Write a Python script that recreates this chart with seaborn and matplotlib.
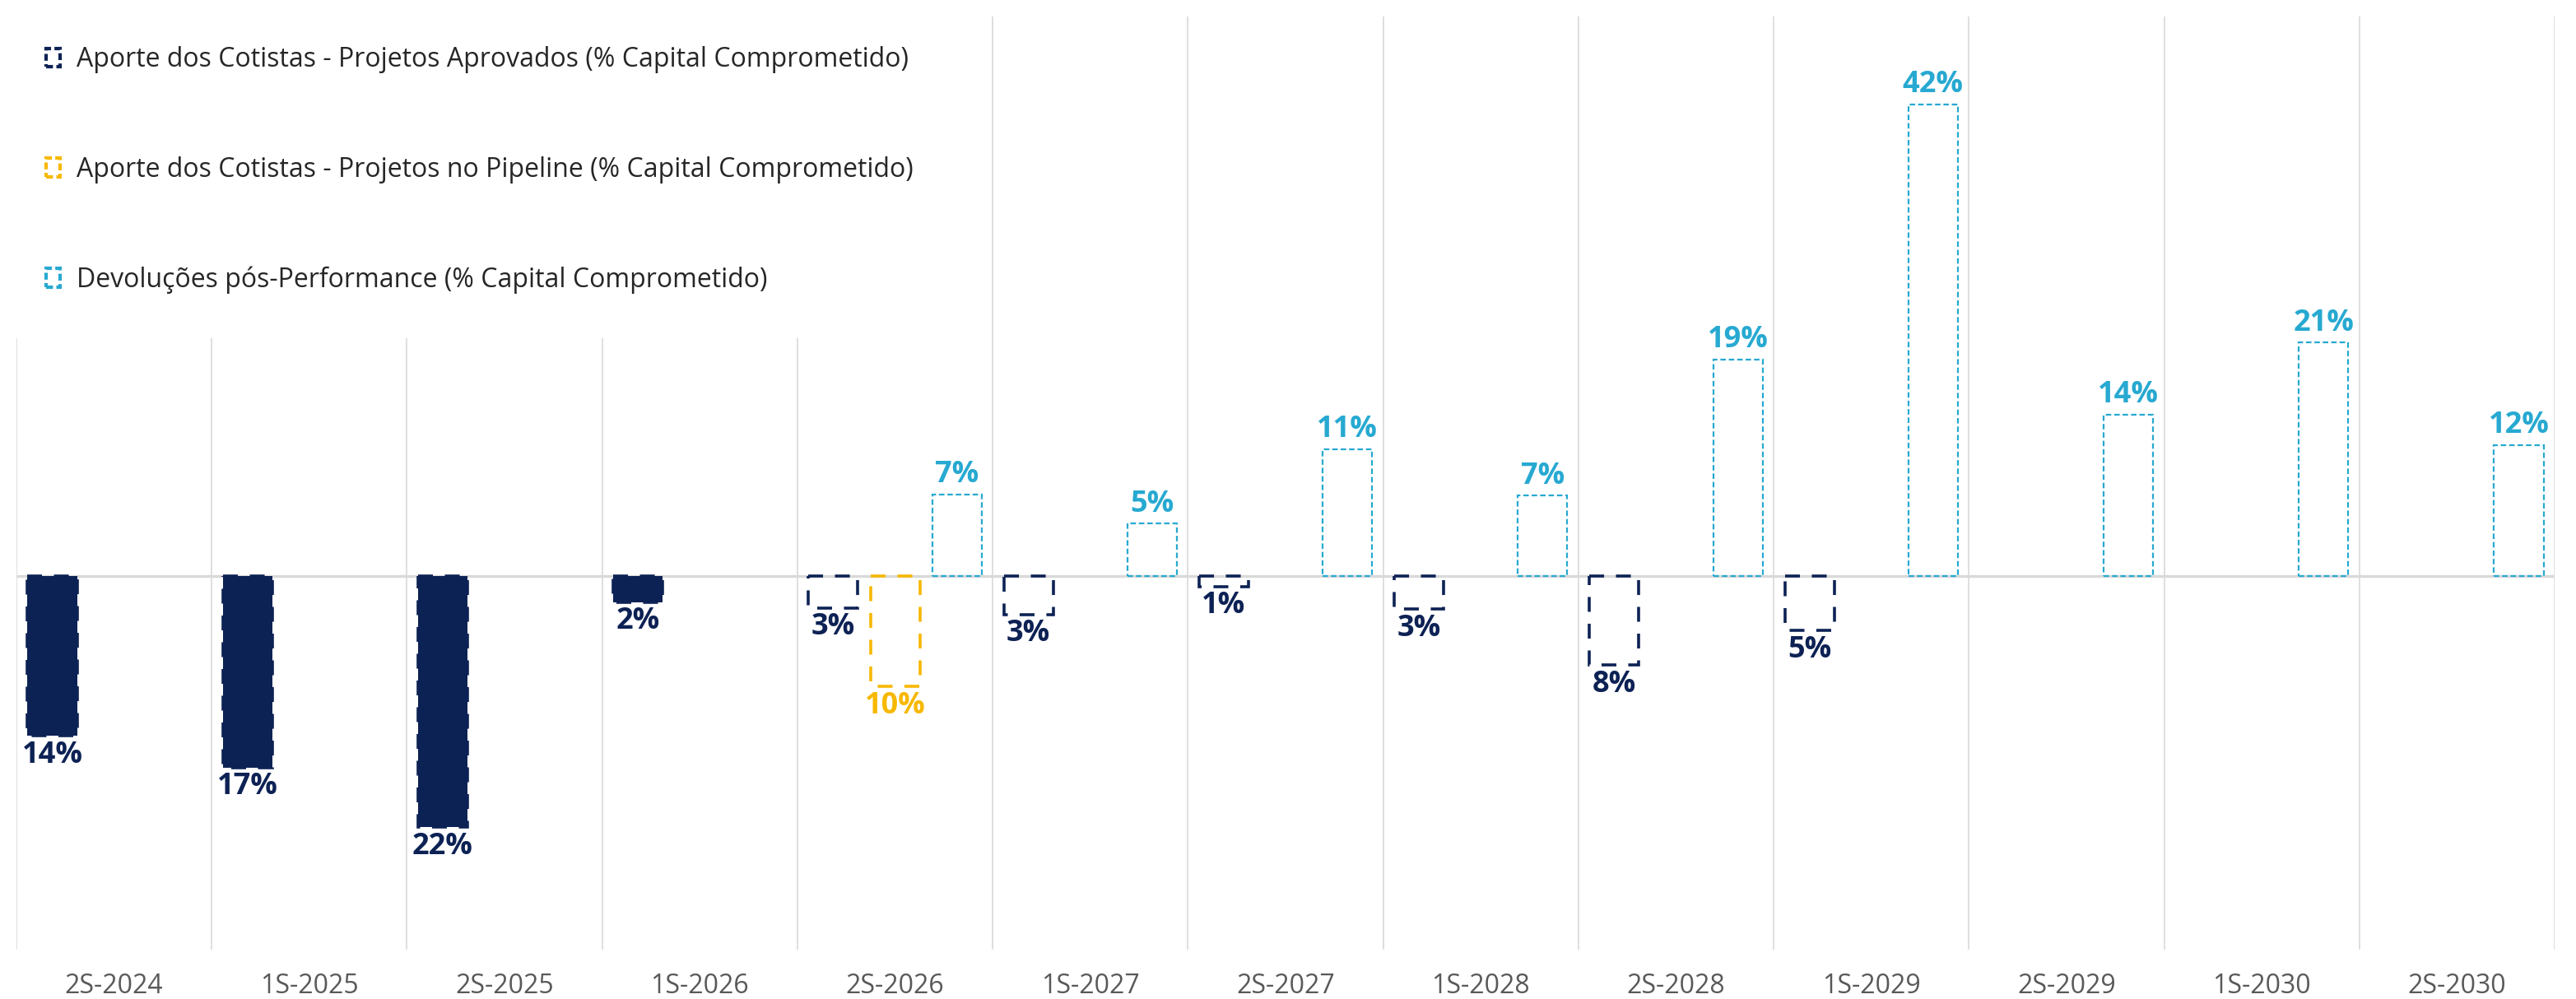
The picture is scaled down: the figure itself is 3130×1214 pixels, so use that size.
import numpy as np
import pandas as pd
import matplotlib
matplotlib.use("Agg")
import matplotlib.pyplot as plt
from matplotlib.patches import Patch
import seaborn as sns

periodos = ["2S-2024", "1S-2025", "2S-2025", "1S-2026", "2S-2026", "1S-2027", "2S-2027",
            "1S-2028", "2S-2028", "1S-2029", "2S-2029", "1S-2030", "2S-2030"]
aprovados = [-14.2, -17.0, -22.3, -2.3, -2.8, -3.4, -0.9, -2.9, -7.9, -4.8, np.nan, np.nan, np.nan]
pipeline = [np.nan, np.nan, np.nan, np.nan, -9.8, np.nan, np.nan, np.nan, np.nan, np.nan, np.nan, np.nan, np.nan]
devolucoes = [np.nan, np.nan, np.nan, np.nan, 7.3, 4.7, 11.3, 7.2, 19.3, 42.0, 14.4, 20.8, 11.7]
series = ["Aporte dos Cotistas - Projetos Aprovados (% Capital Comprometido)",
          "Aporte dos Cotistas - Projetos no Pipeline (% Capital Comprometido)",
          "Devoluções pós-Performance (% Capital Comprometido)"]

# the first periods are already paid in (solid bars)
n_realizados = 4

NAVY = "#0d2254"
YELLOW = "#f7b801"
CYAN = "#27a9d1"
GRID = "#d9d9d9"
cores = [NAVY, YELLOW, CYAN]

sns.set_style("white")
plt.rcParams["font.family"] = ["Open Sans", "DejaVu Sans"]

df = pd.DataFrame({
    "periodo": periodos * 3,
    "serie": [series[0]] * 13 + [series[1]] * 13 + [series[2]] * 13,
    "valor": aprovados + pipeline + devolucoes,
}).dropna()

fig = plt.figure(figsize=(15.65, 6.07), dpi=200)
ax = fig.add_axes([0.0064, 0.0494, 0.9853, 0.9341])

sns.barplot(data=df, x="periodo", y="valor", hue="serie", order=periodos, hue_order=series,
            palette=cores, width=0.95, gap=0.2, errorbar=None, legend=False, ax=ax)

estilos = [
    dict(lw=1.3, ls=(0, (5, 4))),
    dict(lw=1.3, ls=(0, (5, 4))),
    dict(lw=0.8, ls=(0, (3, 1.6))),
]
for i, cont in enumerate(ax.containers):
    for bar in cont:
        idx = int(round(bar.get_x() + bar.get_width() / 2))
        cheio = (i == 0 and idx < n_realizados)
        bar.set_facecolor(cores[i] if cheio else "none")
        bar.set_edgecolor(cores[i])
        bar.set_linewidth(estilos[i]["lw"])
        bar.set_linestyle(estilos[i]["ls"])
        bar.set_zorder(3)
    labels = [f"{abs(b.get_height()):.0f}%" for b in cont]
    ax.bar_label(cont, labels=labels, padding=2, color=cores[i], fontsize=13,
                 fontweight="bold")

ax.set_ylim(-33.2, 49.8)
ax.set_xlim(-0.5, 12.5)
ax.axhline(0, color=GRID, lw=1.2, zorder=2)
ax.set_xticks(np.arange(-0.5, 13, 1), minor=True)
ax.grid(True, which="minor", axis="x", color=GRID, lw=0.6, zorder=0)
ax.grid(False, which="major")
ax.set_yticks([])
ax.set_xlabel("")
ax.set_ylabel("")
ax.tick_params(axis="x", which="both", length=0, pad=10, labelsize=11.5, labelcolor="#595959")
sns.despine(ax=ax, left=True, bottom=True)

handles = [Patch(facecolor="none", edgecolor=c, lw=1.5, ls=(0, (2, 1))) for c in cores]
leg = ax.legend(handles, series, loc="upper left", bbox_to_anchor=(0.0, 1.0),
                bbox_transform=fig.transFigure, frameon=True, facecolor="white",
                edgecolor="none", framealpha=1, fontsize=11.5, handlelength=0.55,
                handleheight=0.7, handletextpad=0.6, labelspacing=3.15, borderpad=1.7,
                borderaxespad=0.05)
leg.set_zorder(10)

fig.savefig("out.png", dpi=200)
